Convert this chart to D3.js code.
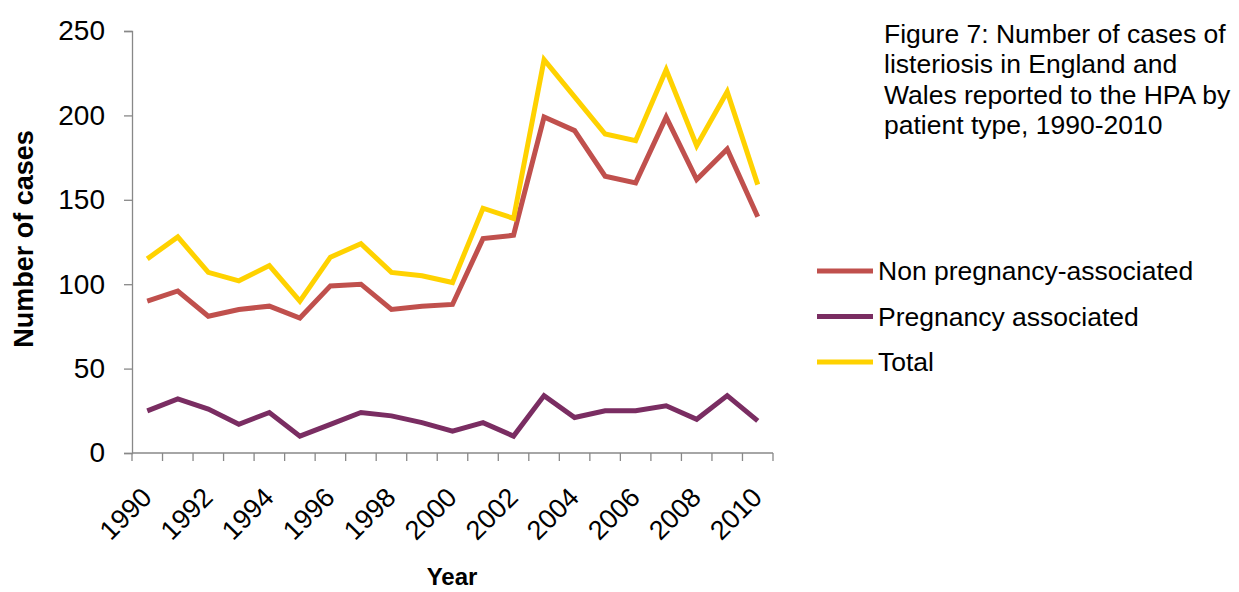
<!DOCTYPE html>
<html>
<head>
<meta charset="utf-8">
<script src="https://cdn.jsdelivr.net/npm/d3@7"></script>
<style>
  body { margin: 0; background: #fff; }
  text { font-family: "Liberation Sans", Arial, sans-serif; fill: #000; }
</style>
</head>
<body>
<div id="chart"></div>
<script>
// Data
var years = [1990, 1991, 1992, 1993, 1994, 1995, 1996, 1997, 1998, 1999, 2000,
             2001, 2002, 2003, 2004, 2005, 2006, 2007, 2008, 2009, 2010];
var nonPregnancy = [90, 96, 81, 85, 87, 80, 99, 100, 85, 87, 88,
                    127, 129, 199, 191, 164, 160, 199, 162, 180, 140];
var pregnancy = [25, 32, 26, 17, 24, 10, 17, 24, 22, 18, 13,
                 18, 10, 34, 21, 25, 25, 28, 20, 34, 19];
var total = [115, 128, 107, 102, 111, 90, 116, 124, 107, 105, 101,
             145, 139, 233, 211, 189, 185, 227, 182, 214, 159];
var yTicks = [0, 50, 100, 150, 200, 250];
var titleLines = ["Figure 7: Number of cases of", "listeriosis in England and",
                  "Wales reported to the HPA by", "patient type, 1990-2010"];

var series = [
    {name: "Non pregnancy-associated", values: nonPregnancy, color: "#C0504D"},
    {name: "Pregnancy associated", values: pregnancy, color: "#7A2D62"},
    {name: "Total", values: total, color: "#FFD200"}
];

var width = 1239, height = 592;
var margin = {top: 31, left: 132, right: 466, bottom: 139};
var plotW = width - margin.left - margin.right;
var plotH = height - margin.top - margin.bottom;

var svg = d3.select("#chart").append("svg")
    .attr("width", width)
    .attr("height", height);

var g = svg.append("g")
    .attr("transform", "translate(" + margin.left + "," + margin.top + ")");

var x = d3.scaleBand().domain(years).range([0, plotW]);
var y = d3.scaleLinear().domain([0, 250]).range([plotH, 0]);

// y axis
var yAxis = g.append("g")
    .call(d3.axisLeft(y).tickValues(yTicks).tickSize(8).tickPadding(19));
yAxis.selectAll("text").style("font-size", "28px");
yAxis.select(".domain").attr("stroke", "#888").attr("stroke-width", 1.3);
yAxis.selectAll(".tick line").attr("stroke", "#888").attr("stroke-width", 1.3);

// x axis: ticks at category boundaries
var xAxis = g.append("g").attr("transform", "translate(0," + plotH + ")");
xAxis.append("line")
    .attr("x1", 0).attr("x2", plotW)
    .attr("stroke", "#888").attr("stroke-width", 1.3);
xAxis.selectAll(".tk")
    .data(years.concat(["end"]))
    .enter().append("line")
    .attr("x1", function(d, i) { return i * x.step(); })
    .attr("x2", function(d, i) { return i * x.step(); })
    .attr("y1", 0).attr("y2", 8)
    .attr("stroke", "#888").attr("stroke-width", 1.3);
xAxis.selectAll(".lbl")
    .data(years.filter(function(d, i) { return i % 2 === 0; }))
    .enter().append("text")
    .attr("text-anchor", "end")
    .style("font-size", "27px")
    .attr("transform", function(d) {
        return "translate(" + (x(d) + x.bandwidth() / 2 + 6) + ",46) rotate(-45)";
    })
    .text(function(d) { return d; });

// lines
var line = d3.line()
    .x(function(d, i) { return x(years[i]) + x.bandwidth() / 2; })
    .y(function(d) { return y(d); });

g.selectAll(".series")
    .data(series)
    .enter().append("path")
    .attr("fill", "none")
    .attr("stroke", function(d) { return d.color; })
    .attr("stroke-width", 5)
    .attr("stroke-linejoin", "miter")
    .attr("d", function(d) { return line(d.values); });

// axis titles
svg.append("text")
    .attr("transform", "translate(33,239) rotate(-90)")
    .attr("text-anchor", "middle")
    .style("font-size", "27px")
    .style("font-weight", "bold")
    .text("Number of cases");
svg.append("text")
    .attr("x", 452).attr("y", 585)
    .attr("text-anchor", "middle")
    .style("font-size", "24px")
    .style("font-weight", "bold")
    .text("Year");

// legend
var legend = svg.append("g").attr("transform", "translate(817,271)");
var item = legend.selectAll(".item")
    .data(series)
    .enter().append("g")
    .attr("transform", function(d, i) { return "translate(0," + (i * 45.5) + ")"; });
item.append("line")
    .attr("x1", 0).attr("x2", 56)
    .attr("stroke", function(d) { return d.color; })
    .attr("stroke-width", 5);
item.append("text")
    .attr("x", 61).attr("y", 9)
    .style("font-size", "26.5px")
    .text(function(d) { return d.name; });

// figure caption
svg.append("text")
    .attr("x", 884).attr("y", 43)
    .style("font-size", "26.5px")
    .selectAll("tspan")
    .data(titleLines)
    .enter().append("tspan")
    .attr("x", 884)
    .attr("dy", function(d, i) { return i === 0 ? 0 : 30.3; })
    .text(function(d) { return d; });
</script>
</body>
</html>
